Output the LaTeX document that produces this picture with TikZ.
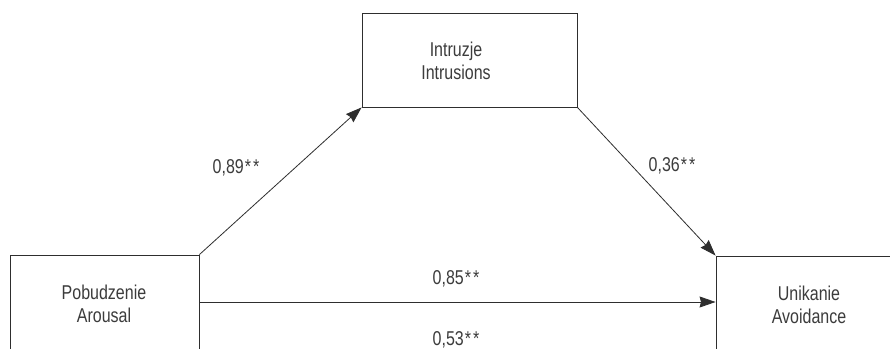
\documentclass[tikz,border=0pt]{standalone}
\usepackage{fontspec}
\setmainfont{Liberation Sans}[FakeStretch=0.8]
\usetikzlibrary{arrows.meta}
\definecolor{ink}{HTML}{2e2e2e}
\definecolor{txt}{HTML}{3c3c3c}
\tikzset{
  box/.style={draw=ink, line width=0.9pt, rectangle, inner sep=0pt},
  lbl/.style={text=txt, font=\fontsize{20}{23}\selectfont, align=center, inner sep=0pt},
  coef/.style={text=txt, font=\fontsize{20}{23}\selectfont, inner sep=0pt, anchor=base},
  conn/.style={draw=ink, line width=0.8pt, -{Stealth[length=16pt,width=11pt,inset=1.5pt]}}
}
\newcommand{\stars}{\kern1pt*\kern2pt*}
\begin{document}
\begin{tikzpicture}[x=1pt,y=-1pt]
\useasboundingbox (0,0) rectangle (890,348);
\clip (0,0) rectangle (890,348);
\fill[white] (0,0) rectangle (890,348);
% boxes
\node[box, minimum width=215pt, minimum height=94pt] (intr) at (469.5,60) {};
\node[box, minimum width=189pt, minimum height=170pt] (arousal) at (104.5,340) {};
\node[box, minimum width=186pt, minimum height=170pt] (avoid) at (809,341) {};
% texts
\node[lbl] (tintr) at (456,61) {Intruzje\\Intrusions};
\node[lbl] (taro) at (104,303.5) {Pobudzenie\\Arousal};
\node[lbl] (tavo) at (809,305) {Unikanie\\Avoidance};
% connectors
\coordinate (hy) at (0,302);
\draw[conn] (arousal.north east) -- (intr.south west);
\draw[conn] (intr.south east) -- (avoid.north west);
\draw[conn] (arousal.east |- hy) -- (avoid.west |- hy);
% coefficients
\node[coef] (c1) at (236,173) {0,89\stars};
\node[coef] (c2) at (672,171.5) {0,36\stars};
\node[coef] (c3) at (456,284) {0,85\stars};
\node[coef] (c4) at (456,345) {0,53\stars};
\end{tikzpicture}
\end{document}
